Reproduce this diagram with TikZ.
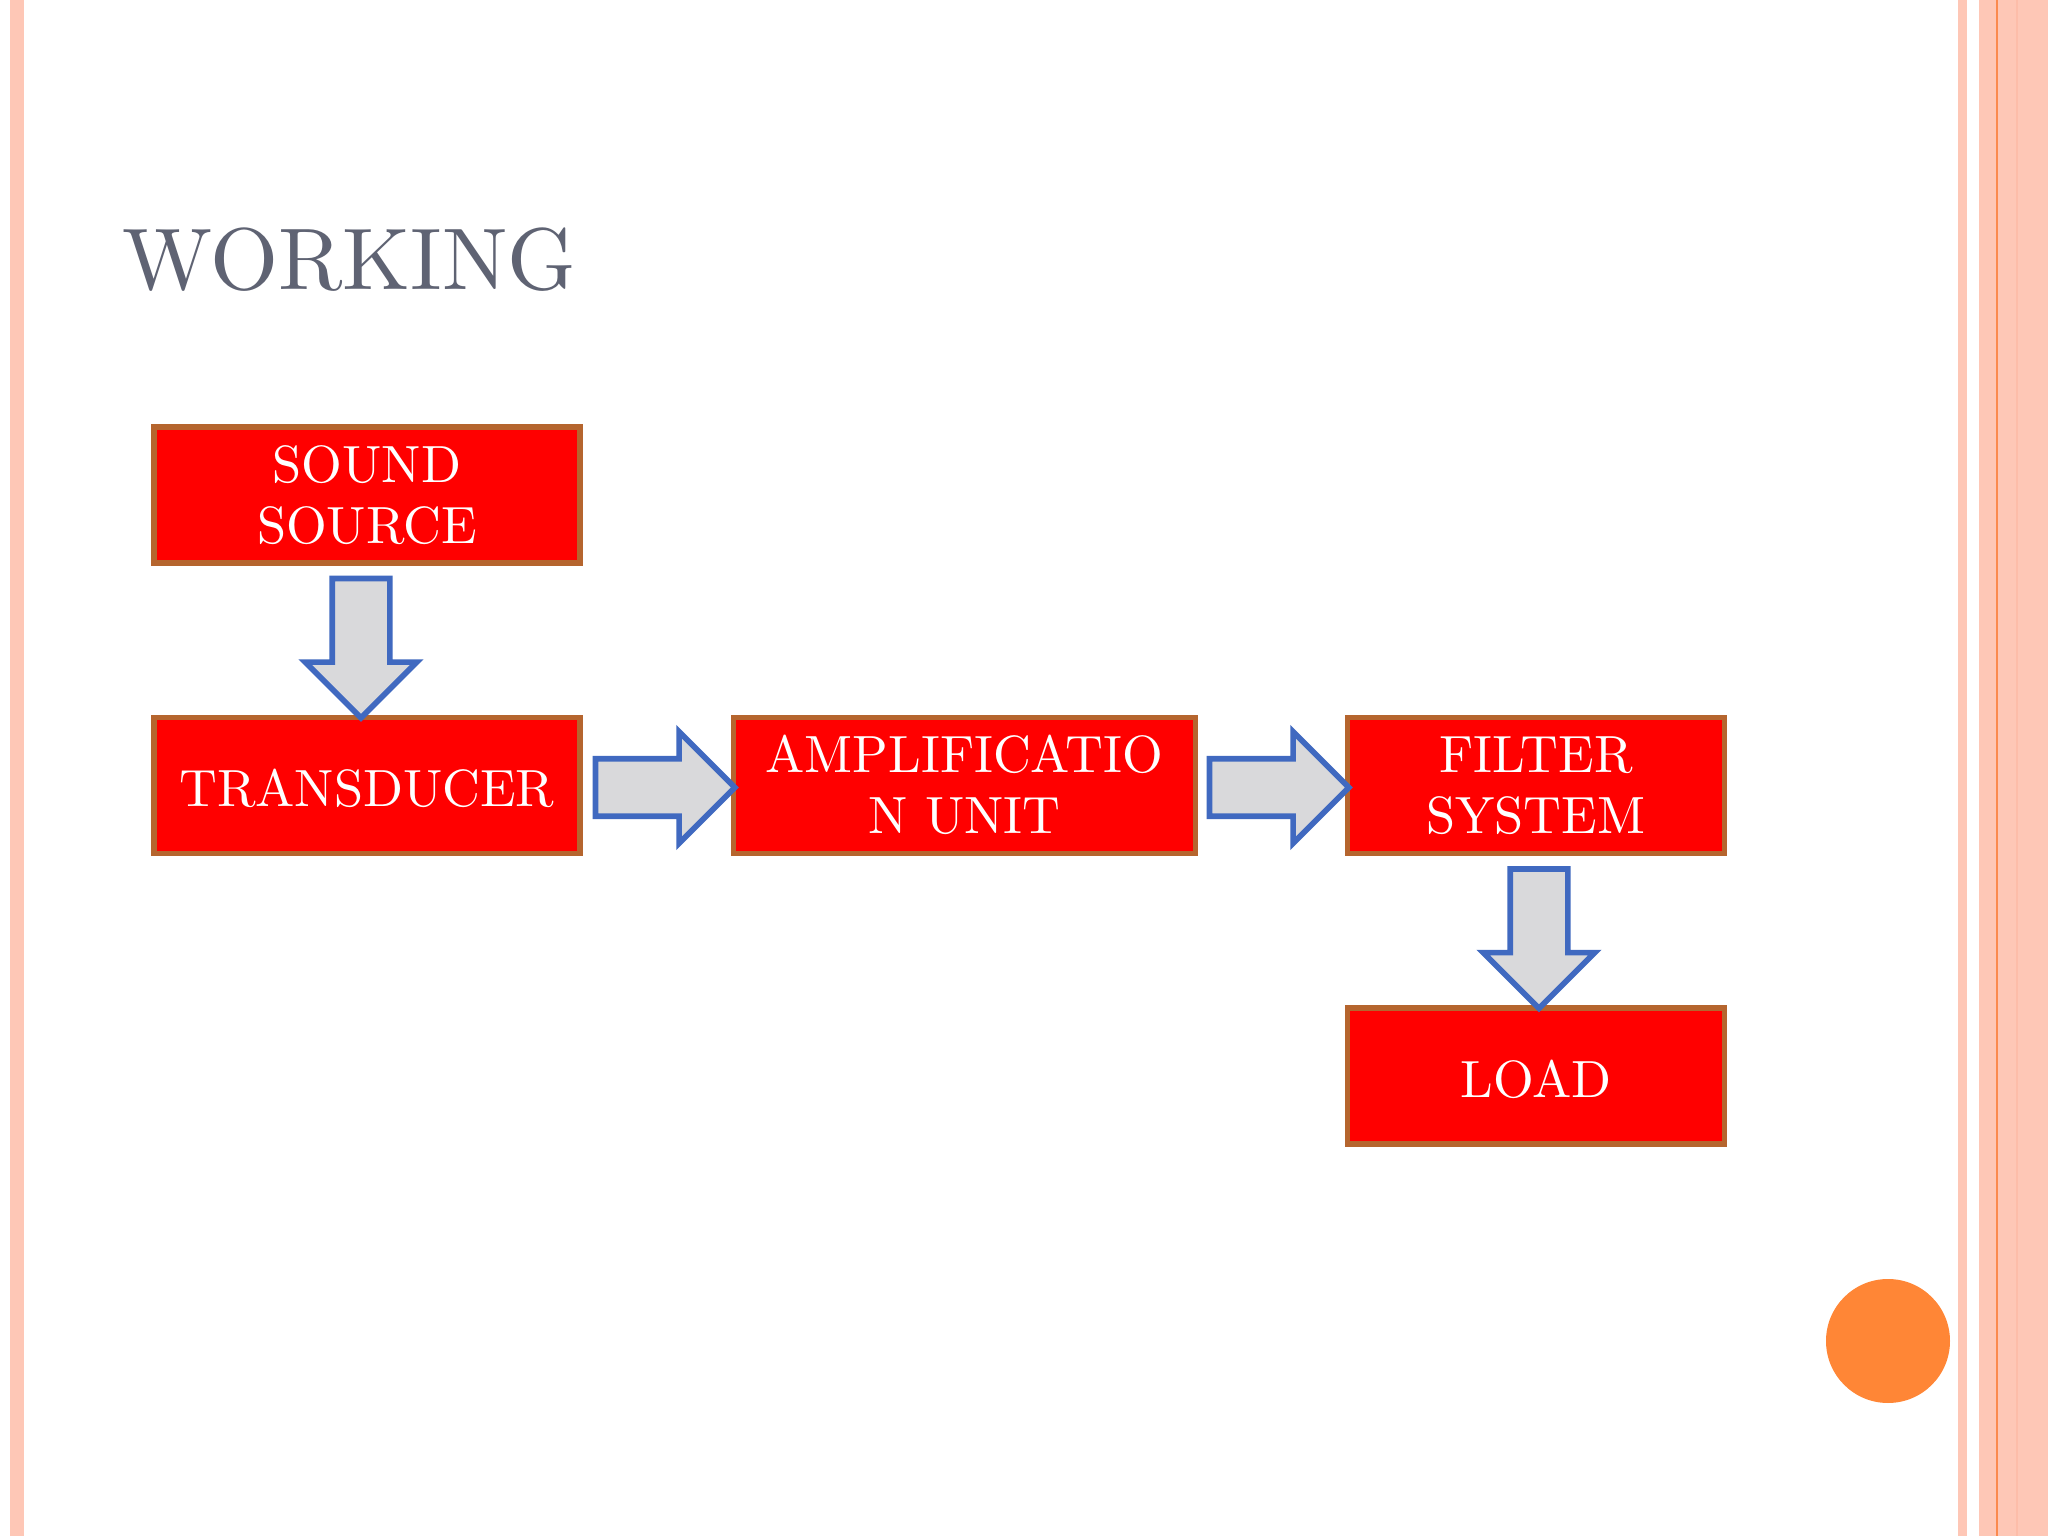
\documentclass[tikz,border=0pt]{standalone}
\usetikzlibrary{shapes.arrows}
\definecolor{bandpink}{HTML}{FEC7B6}
\definecolor{bandline}{HTML}{FB8A4E}
\definecolor{banddark}{HTML}{FDBDA9}
\definecolor{dotorange}{HTML}{FF8636}
\definecolor{titlegrey}{HTML}{5F6373}
\definecolor{boxedge}{HTML}{B5652E}
\definecolor{arrowblue}{HTML}{4069C0}
\definecolor{arrowgrey}{HTML}{D9D9DB}
\font\titleface=cmr10 at 24.9pt
\font\boxfacecm=cmr10 at 14.9pt
\newcommand{\boxface}{\boxfacecm\baselineskip=17.3pt\relax}
\tikzset{
  blockbox/.style={draw=boxedge,fill=red,line width=1.45pt,text=white,align=center,minimum height=1.36cm,
    font=\boxface,inner sep=0pt,execute at begin node={\rule{0pt}{12pt}}},
  blockarrow/.style={single arrow,draw=arrowblue,fill=arrowgrey,line width=1.6pt,minimum height=1.395cm,
    inner sep=0.26cm,outer sep=0pt,single arrow head extend=0.27cm,single arrow tip angle=90},
}
\begin{document}
\begin{tikzpicture}
\useasboundingbox (0,0) rectangle (20.48,-15.36);
\fill[white] (0,0) rectangle (20.48,-15.36);
% side bands
\fill[bandpink] (0.10,0) rectangle (0.24,-15.36);
\fill[bandpink] (19.58,0) rectangle (19.67,-15.36);
\fill[bandpink] (19.79,0) rectangle (20.48,-15.36);
\fill[banddark] (20.16,0) rectangle (20.18,-15.36);
\fill[bandline] (19.96,0) rectangle (19.98,-15.36);
\node[circle,fill=dotorange,minimum size=1.24cm,inner sep=0pt] (dot) at (18.88,-13.41) {};
\node[anchor=base west,text=titlegrey,font=\titleface,inner sep=0pt] (title) at (1.22,-2.90) {WORKING};
\node[blockbox,minimum width=4.26cm] (source) at (3.67,-4.95) {SOUND\\SOURCE};
\node[blockbox,minimum width=4.26cm] (transducer) at (3.67,-7.855) {TRANSDUCER};
\node[blockbox,minimum width=4.62cm] (amp) at (9.645,-7.855) {AMPLIFICATIO\\N UNIT};
\node[blockbox,minimum width=3.77cm] (filter) at (15.36,-7.855) {FILTER\\SYSTEM};
\node[blockbox,minimum width=3.77cm] (load) at (15.36,-10.76) {LOAD};
\node[blockarrow,shape border rotate=270,anchor=tip] (arrowa) at ([xshift=-0.06cm,yshift=-0.03cm]transducer.north) {};
\node[blockarrow,anchor=tip] (arrowb) at ([xshift=0.04cm,yshift=-0.02cm]amp.west) {};
\node[blockarrow,anchor=tip] (arrowc) at ([xshift=0.04cm,yshift=-0.02cm]filter.west) {};
\node[blockarrow,shape border rotate=270,anchor=tip] (arrowd) at ([xshift=0.03cm,yshift=-0.03cm]load.north) {};
\end{tikzpicture}
\end{document}
